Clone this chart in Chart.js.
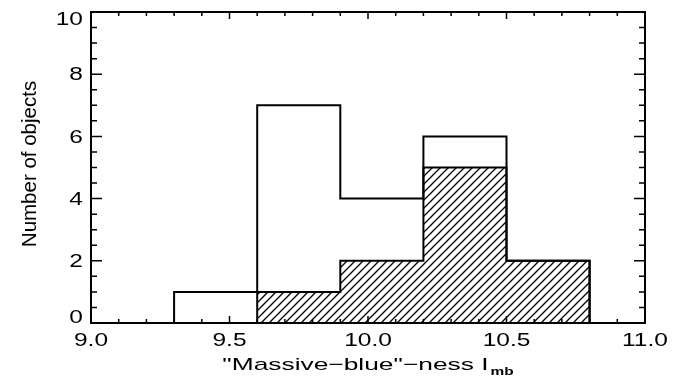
<!DOCTYPE html>
<html>
<head>
<meta charset="utf-8">
<script src="https://cdn.jsdelivr.net/npm/chart.js@4.4.1/dist/chart.umd.min.js"></script>
<style>
  html, body { margin: 0; padding: 0; background: #fff; }
  #wrap { width: 678px; height: 377px; }
</style>
</head>
<body>
<div id="wrap"><canvas id="histChart"></canvas></div>
<script>
// histogram bins (left edges) and counts
const binStarts = [9.3, 9.6, 9.9, 10.2, 10.5];
const binWidth = 0.3;
const allCounts = [1, 7, 4, 6, 2];
const blueCounts = [0, 1, 2, 5, 2];

// axis ticks
const xTicks = [9.0, 9.5, 10.0, 10.5, 11.0];
const xTickLabels = ['9.0', '9.5', '10.0', '10.5', '11.0'];
const yTicks = [0, 2, 4, 6, 8, 10];
const yTickLabels = ['0', '2', '4', '6', '8', '10'];

const xTitle = '"Massive\u2212blue"\u2212ness I';
const xTitleSub = 'mb';
const yTitle = 'Number of objects';

const FONT = '"Liberation Sans", Arial, sans-serif';

// turn bin counts into a stepped outline (starts and ends on the axis)
function stepPoints(counts) {
    const pts = [];
    counts.forEach((c, i) => {
        if (pts.length === 0 && c === 0) return;
        if (pts.length === 0) pts.push({ x: binStarts[i], y: 0 });
        pts.push({ x: binStarts[i], y: c });
    });
    const end = binStarts[binStarts.length - 1] + binWidth;
    pts.push({ x: end, y: counts[counts.length - 1] });
    pts.push({ x: end, y: 0 });
    return pts;
}

function makeHatch(ctx, step) {
    const c = document.createElement('canvas');
    c.width = step;
    c.height = step;
    const g = c.getContext('2d');
    g.strokeStyle = '#000';
    g.lineWidth = 1.3;
    g.beginPath();
    g.moveTo(-1, step + 1); g.lineTo(step + 1, -1);
    g.moveTo(-1, 1); g.lineTo(1, -1);
    g.moveTo(step - 1, step + 1); g.lineTo(step + 1, step - 1);
    g.stroke();
    return ctx.createPattern(c, 'repeat');
}

function wideText(ctx, str, x, y, size, sx, align, weight) {
    ctx.save();
    ctx.font = (weight || 'normal') + ' ' + size + 'px ' + FONT;
    ctx.fillStyle = '#000';
    ctx.translate(x, y);
    ctx.scale(sx, 1);
    ctx.textAlign = align;
    ctx.textBaseline = 'alphabetic';
    ctx.fillText(str, 0, 0);
    ctx.restore();
}

// box frame with inward major/minor ticks on all four sides
const frameTicks = {
    id: 'frameTicks',
    afterDatasetsDraw(chart) {
        const { ctx, chartArea: a, scales: { x, y } } = chart;
        ctx.save();
        ctx.strokeStyle = '#000';
        ctx.lineWidth = 2;
        ctx.strokeRect(a.left, a.top, a.right - a.left, a.bottom - a.top);
        ctx.lineWidth = 1.5;
        ctx.beginPath();
        for (let k = 0; k <= 20; k++) {
            const px = x.getPixelForValue(9 + k * 0.1);
            const len = k % 5 === 0 ? 7 : 4;
            ctx.moveTo(px, a.bottom); ctx.lineTo(px, a.bottom - len);
            ctx.moveTo(px, a.top); ctx.lineTo(px, a.top + len);
        }
        for (let k = 0; k <= 20; k++) {
            const py = y.getPixelForValue(k * 0.5);
            const len = k % 4 === 0 ? 11 : 6;
            ctx.moveTo(a.left, py); ctx.lineTo(a.left + len, py);
            ctx.moveTo(a.right, py); ctx.lineTo(a.right - len, py);
        }
        ctx.stroke();
        ctx.restore();
    }
};

// tick labels and axis titles in the wide plotting font
const axisText = {
    id: 'axisText',
    afterDraw(chart) {
        const { ctx, chartArea: a, scales: { x, y } } = chart;
        const size = 17.5, sx = 1.4, cap = size * 0.716;

        x.ticks.forEach((t, i) => {
            wideText(ctx, xTickLabels[i], x.getPixelForValue(t.value), 346, size, sx, 'center');
        });
        y.ticks.forEach((t, i) => {
            let base = y.getPixelForValue(t.value) + cap / 2;
            base = Math.min(a.bottom, Math.max(a.top + cap, base));
            wideText(ctx, yTickLabels[i], a.left - 8, base, size, sx, 'right');
        });

        // x title with subscript
        ctx.save();
        ctx.font = 'normal 17px ' + FONT;
        const w1 = ctx.measureText(xTitle).width * 1.55;
        ctx.font = 'bold 11px ' + FONT;
        const w2 = ctx.measureText(xTitleSub).width * 1.4;
        ctx.restore();
        const x0 = (a.left + a.right) / 2 - (w1 + 2 + w2) / 2;
        wideText(ctx, xTitle, x0, 370, 17, 1.55, 'left');
        wideText(ctx, xTitleSub, x0 + w1 + 2, 375, 11, 1.4, 'left', 'bold');

        // rotated y title
        ctx.save();
        ctx.font = 'normal 20.5px ' + FONT;
        ctx.fillStyle = '#000';
        ctx.translate(36, 164);
        ctx.rotate(-Math.PI / 2);
        ctx.textAlign = 'center';
        ctx.textBaseline = 'alphabetic';
        ctx.fillText(yTitle, 0, 0);
        ctx.restore();
    }
};

function initChart() {
    const canvas = document.getElementById('histChart');
    const ctx = canvas.getContext('2d');

    new Chart(ctx, {
        type: 'line',
        data: {
            datasets: [{
                label: 'all',
                data: stepPoints(allCounts),
                stepped: 'before',
                borderColor: '#000',
                borderWidth: 2,
                fill: false,
                pointRadius: 0
            }, {
                label: 'massive blue',
                data: stepPoints(blueCounts),
                stepped: 'before',
                borderColor: '#000',
                borderWidth: 2,
                backgroundColor: makeHatch(ctx, 8),
                fill: 'origin',
                pointRadius: 0
            }]
        },
        options: {
            responsive: true,
            maintainAspectRatio: false,
            animation: false,
            events: [],
            layout: { padding: { top: 12, right: 33, left: 0, bottom: 0 } },
            plugins: {
                legend: { display: false },
                tooltip: { enabled: false }
            },
            scales: {
                x: {
                    type: 'linear',
                    min: 9,
                    max: 11,
                    grid: { display: false },
                    border: { display: false },
                    ticks: { display: false },
                    afterBuildTicks: s => { s.ticks = xTicks.map(v => ({ value: v })); },
                    afterFit: s => { s.height = 54; }
                },
                y: {
                    min: 0,
                    max: 10,
                    grid: { display: false },
                    border: { display: false },
                    ticks: { display: false },
                    afterBuildTicks: s => { s.ticks = yTicks.map(v => ({ value: v })); },
                    afterFit: s => { s.width = 91; }
                }
            }
        },
        plugins: [frameTicks, axisText]
    });
}

document.addEventListener('DOMContentLoaded', initChart);
</script>
</body>
</html>
